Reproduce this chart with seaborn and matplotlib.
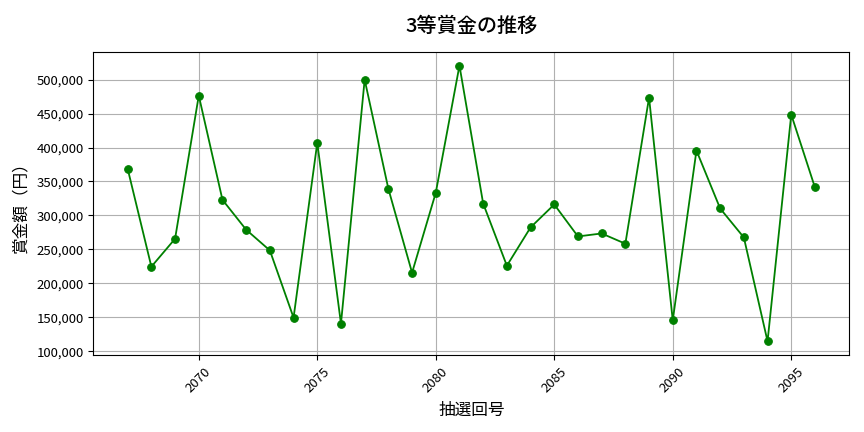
import pandas as pd
import matplotlib
matplotlib.use("Agg")
import matplotlib.pyplot as plt
import matplotlib.ticker as mticker
import seaborn as sns

# 抽選回号と3等賞金
draw_numbers = list(range(2067, 2097))
prize_values = [
    368700, 224600, 265700, 476500, 323000, 279000, 248500, 149500, 407000, 140700,
    500000, 339300, 215700, 333400, 520600, 317600, 226000, 282400, 316200, 269100,
    273500, 258400, 473500, 145600, 395600, 310300, 267600, 114700, 448500, 341200,
]

df = pd.DataFrame({"draw": draw_numbers, "prize": prize_values})

plt.rcParams['font.family'] = ['Noto Sans CJK JP', 'DejaVu Sans']

fig, ax = plt.subplots(figsize=(8.64, 4.32), dpi=100)
sns.lineplot(data=df, x="draw", y="prize", marker="o", color="green",
             markersize=5.5, markeredgecolor="green", linewidth=1.3, ax=ax)

ax.set_title("3等賞金の推移", fontsize=14.5, fontweight="medium", pad=14)
ax.set_xlabel("抽選回号", fontsize=12, labelpad=5)
ax.set_ylabel("賞金額（円）", fontsize=12, labelpad=5)
ax.yaxis.set_major_formatter(mticker.FuncFormatter(lambda v, p: f"{int(v):,}"))
ax.tick_params(axis="x", labelrotation=45, labelsize=9.5)
ax.tick_params(axis="y", labelsize=9.5)
ax.grid(True, color="#b0b0b0", linewidth=0.8)

plt.subplots_adjust(left=0.108, right=0.983, top=0.88, bottom=0.178)
plt.savefig("out.png")
